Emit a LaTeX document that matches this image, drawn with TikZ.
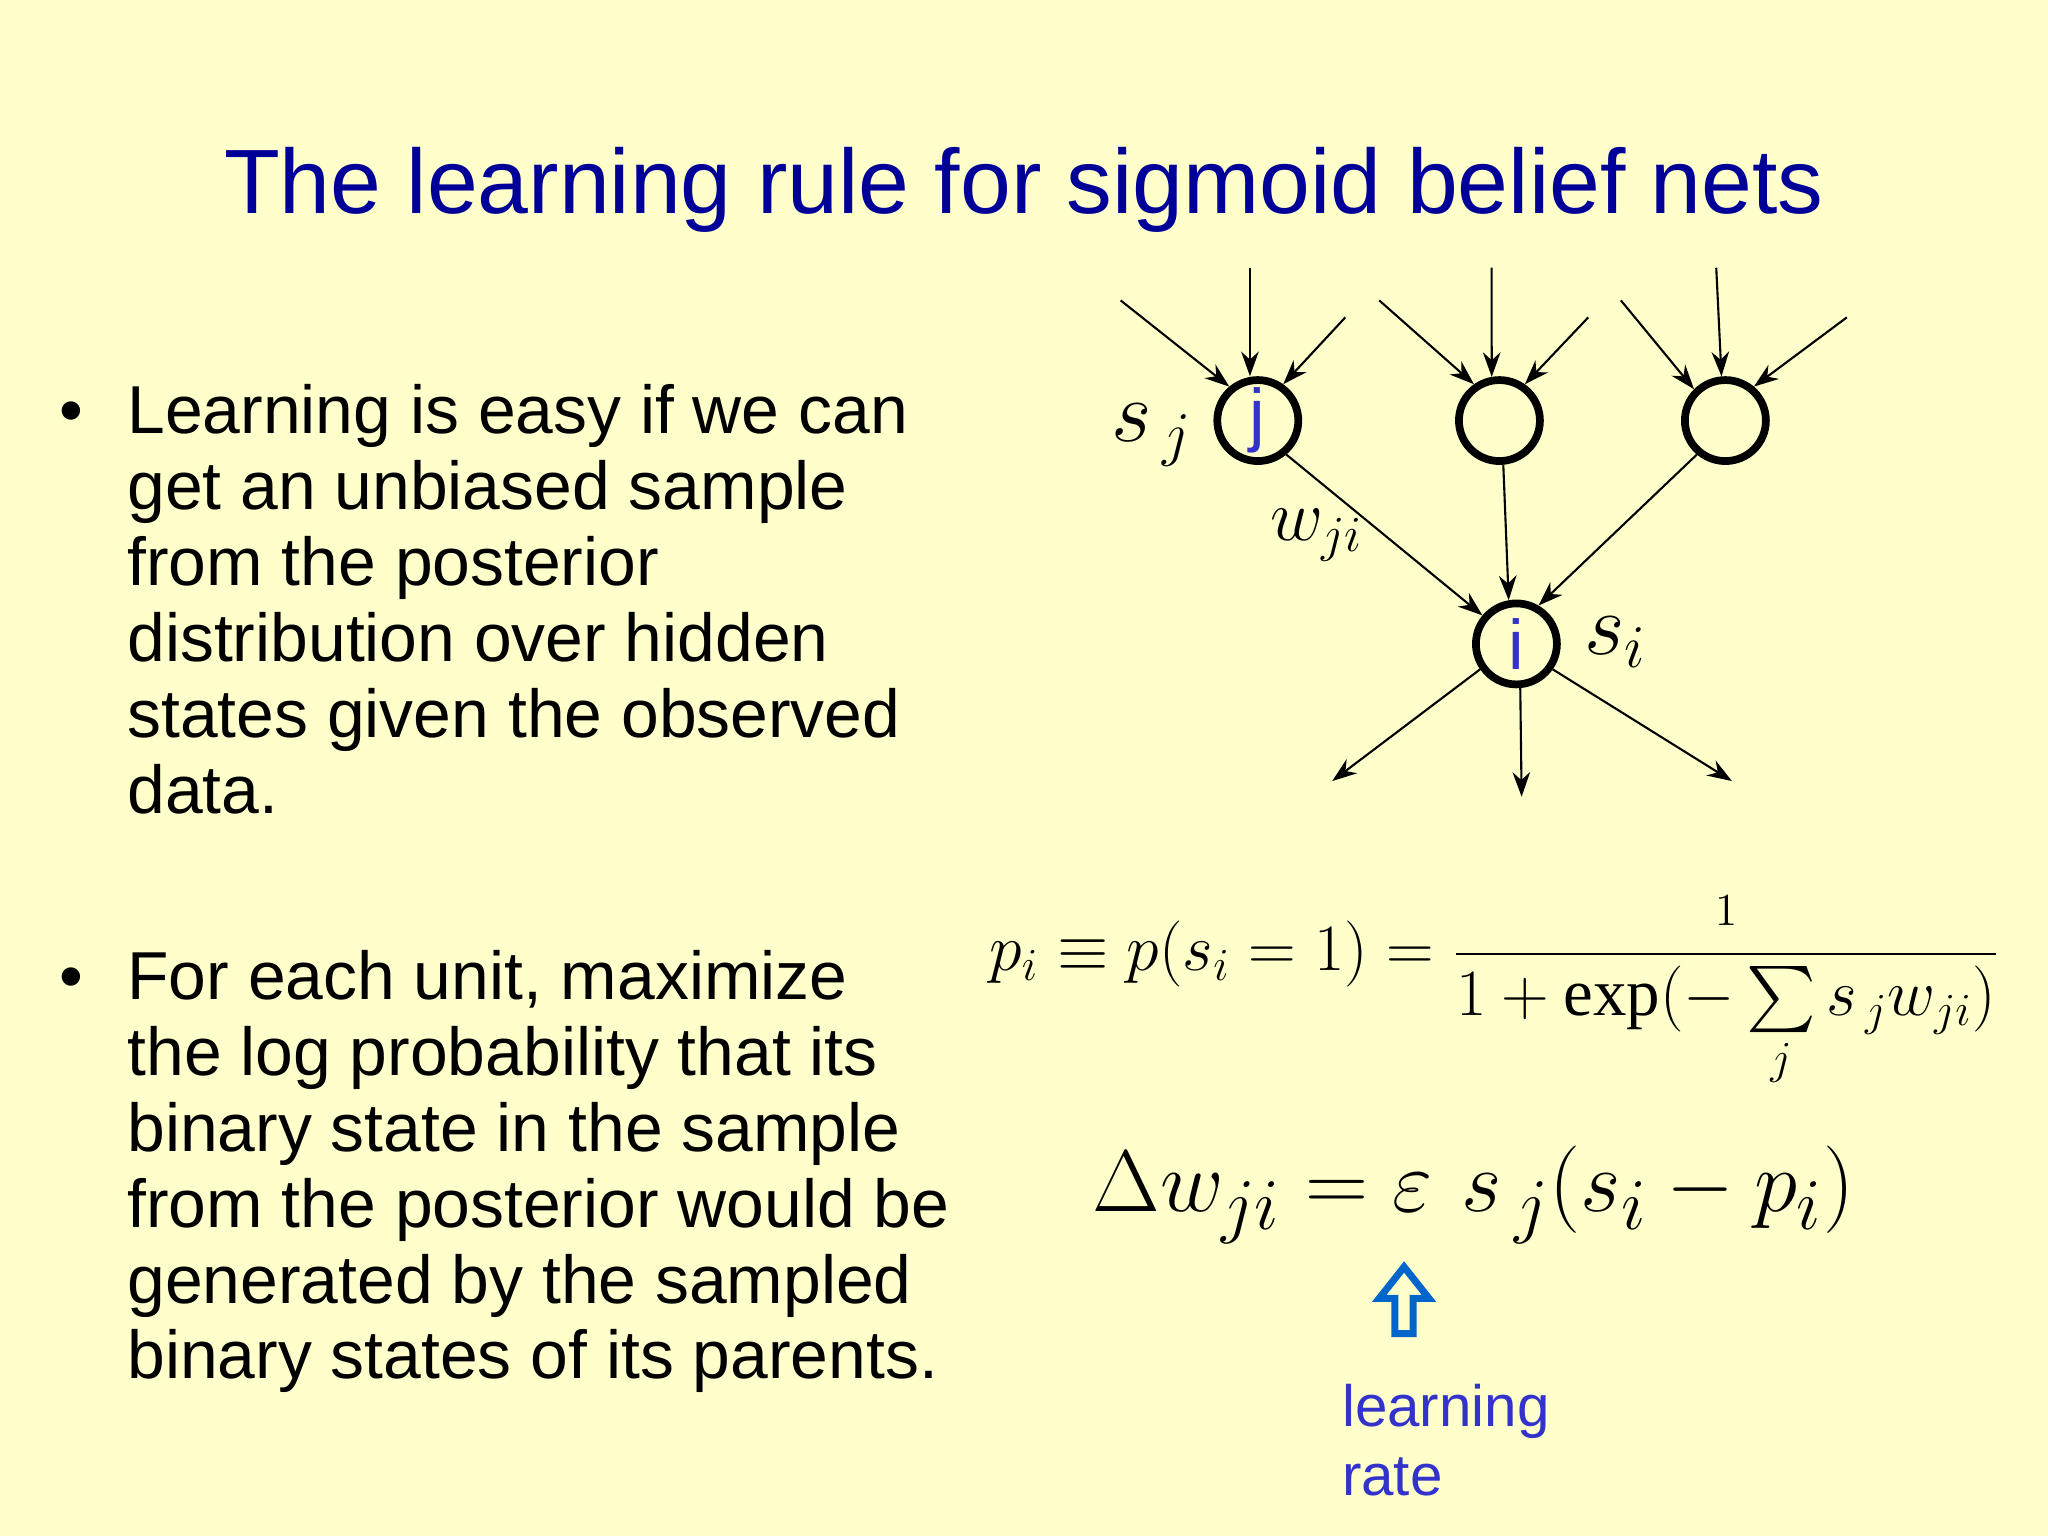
\documentclass[tikz,border=0pt]{standalone}
\usepackage{amsmath}
\usepackage{graphicx}
\usepackage{fontspec}
\setmainfont{Liberation Sans}
\newfontfamily\serif{Liberation Serif}
\usetikzlibrary{arrows.meta}
\definecolor{bg}{RGB}{255,255,204}
\definecolor{ttl}{RGB}{0,0,153}
\definecolor{lbl}{RGB}{51,51,204}
\definecolor{arr}{RGB}{0,102,204}
\newlength{\bind}\setlength{\bind}{0.68cm}
\newcommand{\sexp}{\text{\serif exp}}
\begin{document}
\begin{tikzpicture}[x=0.013061cm,y=-0.013061cm,
  unit/.style={circle,draw,line width=2.2pt,minimum size=0.81cm,inner sep=0pt,font=\fontsize{20}{20}\selectfont,text=lbl},
  con/.style={-{Stealth[length=7pt,width=5pt]},line width=0.6pt},
  body/.style={anchor=north west,align=left,font=\fontsize{19.3}{21.6}\selectfont}]
\fill[bg] (0,0) rectangle (1568,1176);
\useasboundingbox (0,0) rectangle (1568,1176);
\node[text=ttl,font=\fontsize{26}{30}\selectfont] (title) at (784,145) {The learning rule for sigmoid belief nets};
\node[body] (b1) at (36,285) {\makebox[\bind][l]{•}Learning is easy if we can\\
\hspace*{\bind}get an unbiased sample\\
\hspace*{\bind}from the posterior\\
\hspace*{\bind}distribution over hidden\\
\hspace*{\bind}states given the observed\\
\hspace*{\bind}data.};
\node[body] (b2) at (36,718) {\makebox[\bind][l]{•}For each unit, maximize\\
\hspace*{\bind}the log probability that its\\
\hspace*{\bind}binary state in the sample\\
\hspace*{\bind}from the posterior would be\\
\hspace*{\bind}generated by the sampled\\
\hspace*{\bind}binary states of its parents.};
% network
\node[unit] (j) at (963,322) {j};
\node[unit] (m) at (1148,322) {};
\node[unit] (r) at (1321,322) {};
\node[unit] (i) at (1161,493) {i};
\foreach \n/\a/\b/\c in {j/858/957/1030, m/1056/1142/1216, r/1241/1314/1414}{
  \coordinate (\n a) at (\a,230);
  \coordinate (\n b) at (\b,205);
  \coordinate (\n c) at (\c,243);
}
\draw[con] (ja) -- (j.130);
\draw[con] (jb) -- (j.north -| jb);
\draw[con] (jc) -- (j.55);
\draw[con] (ma) -- (m.125);
\draw[con] (mb) -- (m.100);
\draw[con] (mc) -- (m.55);
\draw[con] (ra) -- (r.135);
\draw[con] (rb) -- (r.95);
\draw[con] (rc) -- (r.50);
\draw[con] (j.-50) -- (i.140);
\draw[con] (m.-85) -- (i.100);
\draw[con] (r.-130) -- (i.60);
\coordinate (o1) at (1020,598);
\coordinate (o2) at (1165,610);
\coordinate (o3) at (1326,598);
\draw[con] (i.-145) -- (o1);
\draw[con] (i.-85) -- (o2);
\draw[con] (i.-35) -- (o3);
\node[font=\fontsize{24}{24}\selectfont] (sj) at (882,333) {$s_{\,j}$};
\node[font=\fontsize{22}{22}\selectfont] (wji) at (1008,410) {$w_{ji}$};
\node[font=\fontsize{26}{26}\selectfont] (si) at (1237,492) {$s_i$};
% equations
\node[font=\fontsize{21}{26}\selectfont,anchor=west,inner sep=0pt] (eq1) at (757,760) {\resizebox{10.1cm}{!}{$p_i\equiv p(s_i=1)=\dfrac{\scriptstyle 1}{1+\sexp(-\sum\limits_j s_{\,j}w_{ji})}$}};
\node[font=\fontsize{30}{36}\selectfont] (eq2) at (1128,915) {$\Delta w_{ji}=\varepsilon\ s_{\,j}(s_i-p_i)$};
\draw[arr,line width=2pt] (1075,970) -- (1094,994) -- (1082,994) -- (1082,1021) -- (1068,1021) -- (1068,994) -- (1056,994) -- cycle;
\node[text=lbl,anchor=north west,align=left,font=\fontsize{16.6}{19.6}\selectfont] (lr) at (1018,1050) {learning\\rate};
\end{tikzpicture}
\end{document}
